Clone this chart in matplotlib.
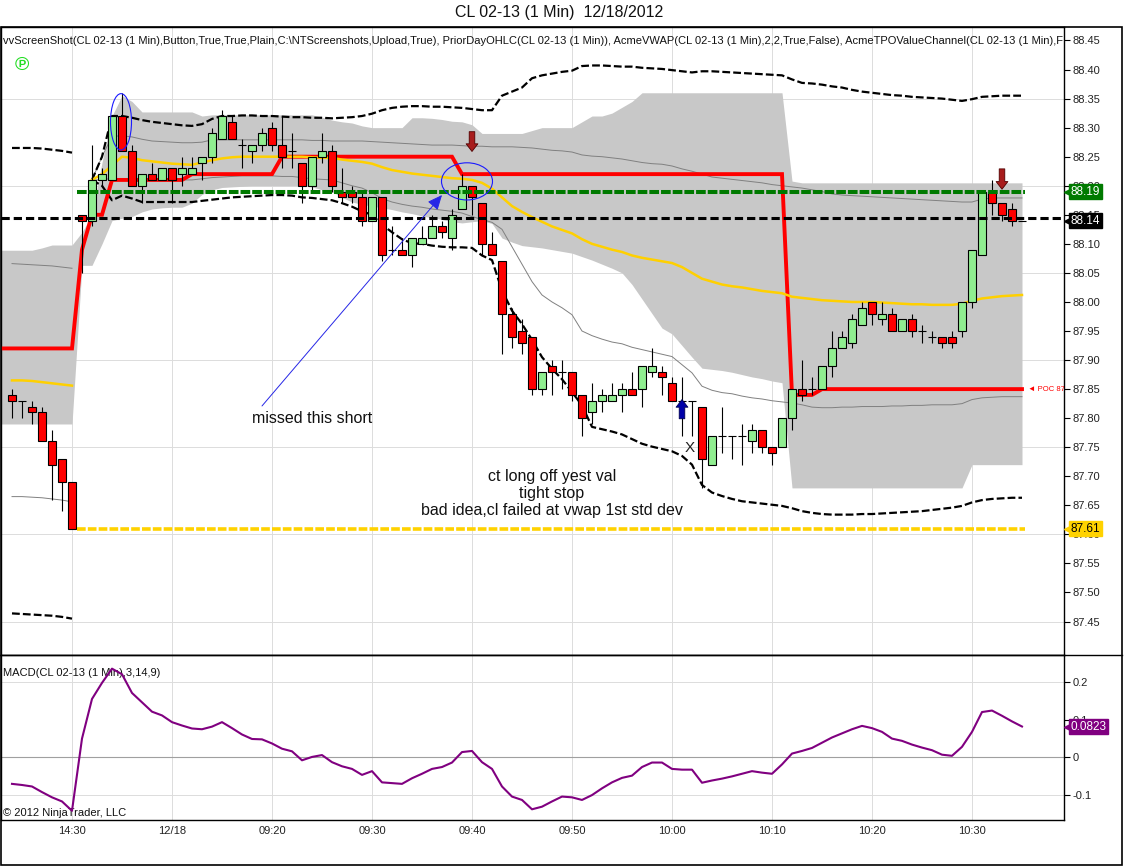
import numpy as np
import matplotlib
matplotlib.use('Agg')
import matplotlib.pyplot as plt
from matplotlib.patches import Ellipse, Rectangle
from matplotlib.lines import Line2D
from matplotlib.transforms import blended_transform_factory

plt.rcParams['font.family'] = ['Liberation Sans', 'DejaVu Sans']

# ---- 1 minute bars (prior day close, then 12/18 session) ----
opens = [87.84, 87.83, 87.82, 87.81, 87.76, 87.73, 87.69,
         88.15, 88.14, 88.21, 88.21, 88.32, 88.26, 88.20, 88.22, 88.21, 88.23, 88.22, 88.22, 88.24,
         88.25, 88.28, 88.31, 88.27, 88.26, 88.27, 88.30, 88.27, 88.26, 88.24,
         88.20, 88.25, 88.26, 88.19, 88.19, 88.18, 88.14, 88.18, 88.09, 88.09,
         88.08, 88.10, 88.11, 88.13, 88.11, 88.16, 88.20, 88.17, 88.10, 88.07,
         87.98, 87.95, 87.94, 87.85, 87.89, 87.88, 87.88, 87.84, 87.81, 87.83,
         87.83, 87.84, 87.85, 87.85, 87.88, 87.88, 87.86, 87.83, 87.83, 87.82,
         87.72, 87.77, 87.77, 87.77, 87.76, 87.78, 87.75, 87.75, 87.80, 87.85,
         87.85, 87.85, 87.89, 87.92, 87.93, 87.96, 88.00, 87.97, 87.98, 87.95,
         87.97, 87.95, 87.94, 87.94, 87.94, 87.95, 88.00, 88.08, 88.19, 88.17,
         88.16, 88.14]
highs = [87.85, 87.83, 87.83, 87.82, 87.78, 87.73, 87.69,
         88.15, 88.27, 88.23, 88.32, 88.36, 88.27, 88.22, 88.24, 88.23, 88.23, 88.25, 88.25, 88.25,
         88.30, 88.33, 88.32, 88.28, 88.27, 88.30, 88.31, 88.32, 88.29, 88.24,
         88.25, 88.29, 88.27, 88.23, 88.20, 88.19, 88.18, 88.18, 88.13, 88.11,
         88.11, 88.13, 88.15, 88.14, 88.16, 88.22, 88.20, 88.17, 88.12, 88.07,
         87.99, 87.97, 87.94, 87.88, 87.90, 87.90, 87.88, 87.84, 87.86, 87.85,
         87.86, 87.86, 87.88, 87.89, 87.92, 87.89, 87.87, 87.87, 87.83, 87.82,
         87.77, 87.82, 87.77, 87.79, 87.79, 87.78, 87.75, 87.80, 87.85, 87.90,
         87.87, 87.89, 87.95, 87.95, 87.98, 88.00, 88.00, 88.00, 87.99, 87.97,
         87.98, 87.96, 87.95, 87.94, 87.95, 88.00, 88.09, 88.19, 88.21, 88.17,
         88.17, 88.14]
lows = [87.80, 87.80, 87.79, 87.76, 87.66, 87.64, 87.61,
        88.05, 88.13, 88.20, 88.21, 88.26, 88.20, 88.17, 88.21, 88.21, 88.17, 88.20, 88.22, 88.21,
        88.24, 88.28, 88.28, 88.23, 88.24, 88.26, 88.26, 88.23, 88.23, 88.17,
        88.19, 88.24, 88.19, 88.17, 88.17, 88.13, 88.14, 88.07, 88.08, 88.08,
        88.06, 88.10, 88.11, 88.11, 88.09, 88.16, 88.15, 88.08, 88.08, 87.91,
        87.92, 87.91, 87.84, 87.84, 87.84, 87.85, 87.83, 87.77, 87.79, 87.81,
        87.83, 87.81, 87.84, 87.82, 87.87, 87.84, 87.83, 87.77, 87.77, 87.68,
        87.72, 87.74, 87.73, 87.72, 87.74, 87.74, 87.72, 87.75, 87.78, 87.83,
        87.84, 87.85, 87.87, 87.92, 87.92, 87.96, 87.96, 87.96, 87.95, 87.95,
        87.94, 87.93, 87.93, 87.92, 87.92, 87.94, 87.99, 88.08, 88.15, 88.14,
        88.13, 88.14]
closes = [87.83, 87.83, 87.81, 87.76, 87.72, 87.69, 87.61,
          88.14, 88.21, 88.22, 88.32, 88.26, 88.20, 88.22, 88.21, 88.23, 88.21, 88.23, 88.23, 88.25,
          88.29, 88.32, 88.28, 88.27, 88.27, 88.29, 88.27, 88.25, 88.26, 88.20,
          88.25, 88.26, 88.20, 88.18, 88.18, 88.14, 88.18, 88.08, 88.09, 88.08,
          88.11, 88.11, 88.13, 88.12, 88.15, 88.20, 88.18, 88.10, 88.08, 87.98,
          87.94, 87.93, 87.85, 87.88, 87.88, 87.88, 87.84, 87.80, 87.83, 87.84,
          87.84, 87.85, 87.84, 87.89, 87.89, 87.87, 87.83, 87.83, 87.83, 87.73,
          87.77, 87.77, 87.77, 87.77, 87.78, 87.75, 87.74, 87.80, 87.85, 87.84,
          87.85, 87.89, 87.92, 87.94, 87.97, 87.99, 87.98, 87.98, 87.95, 87.97,
          87.95, 87.95, 87.94, 87.93, 87.93, 88.00, 88.09, 88.19, 88.17, 88.15,
          88.14, 88.14]

nan = np.nan
# AcmeVWAP and its 1st / 2nd std dev bands
vwap = [87.865, 87.865, 87.864, 87.862, 87.860, 87.858, 87.856, nan,
        88.21, 88.22, 88.235, 88.25, 88.248, 88.244, 88.242, 88.24, 88.238, 88.237, 88.236, 88.24,
        88.244, 88.247, 88.249, 88.25, 88.25, 88.25, 88.25, 88.25, 88.25, 88.25,
        88.249, 88.248, 88.248, 88.245, 88.243, 88.241, 88.238, 88.232, 88.227, 88.224,
        88.221, 88.219, 88.217, 88.215, 88.213, 88.212, 88.21, 88.205, 88.195, 88.18,
        88.165, 88.155, 88.146, 88.138, 88.13, 88.124, 88.118, 88.108, 88.10, 88.095,
        88.09, 88.086, 88.08, 88.076, 88.073, 88.07, 88.067, 88.06, 88.05, 88.04,
        88.035, 88.03, 88.027, 88.025, 88.022, 88.019, 88.017, 88.015, 88.009, 88.007,
        88.005, 88.003, 88.002, 88.001, 88.0, 88.0, 88.0, 87.999, 87.998, 87.997,
        87.996, 87.996, 87.995, 87.995, 87.995, 87.997, 88.002, 88.006, 88.008, 88.01,
        88.011, 88.012]
sd1_up = [88.066, 88.065, 88.064, 88.063, 88.062, 88.06, 88.058, nan,
          88.21, 88.25, 88.285, 88.286, 88.284, 88.28, 88.277, 88.276, 88.275, 88.274, 88.274, 88.275,
          88.279, 88.279, 88.279, 88.279, 88.279, 88.279, 88.279, 88.279, 88.279, 88.279,
          88.278, 88.278, 88.277, 88.277, 88.277, 88.277, 88.276, 88.275, 88.274, 88.273,
          88.272, 88.271, 88.27, 88.27, 88.27, 88.269, 88.268, 88.268, 88.267, 88.267,
          88.267, 88.266, 88.265, 88.263, 88.261, 88.26, 88.258, 88.253, 88.251, 88.25,
          88.248, 88.246, 88.243, 88.24, 88.238, 88.237, 88.234, 88.229, 88.225, 88.22,
          88.215, 88.213, 88.211, 88.209, 88.207, 88.205, 88.202, 88.20, 88.198, 88.196,
          88.193, 88.19, 88.186, 88.184, 88.183, 88.182, 88.181, 88.18, 88.179, 88.178,
          88.177, 88.176, 88.175, 88.174, 88.173, 88.172, 88.172, 88.177, 88.179, 88.179,
          88.179, 88.179]
sd1_dn = [87.665, 87.665, 87.664, 87.663, 87.661, 87.659, 87.656, nan,
          88.21, 88.21, 88.213, 88.212, 88.211, 88.211, 88.21, 88.21, 88.21, 88.21, 88.21, 88.212,
          88.214, 88.215, 88.216, 88.217, 88.217, 88.217, 88.217, 88.216, 88.216, 88.214,
          88.212, 88.211, 88.21, 88.205, 88.20, 88.196, 88.188, 88.178, 88.172, 88.168,
          88.165, 88.163, 88.16, 88.158, 88.156, 88.153, 88.147, 88.142, 88.137, 88.125,
          88.095, 88.065, 88.035, 88.012, 88.0, 87.99, 87.978, 87.95, 87.942, 87.936,
          87.931, 87.928, 87.922, 87.918, 87.914, 87.91, 87.906, 87.892, 87.878, 87.855,
          87.848, 87.844, 87.842, 87.838, 87.835, 87.833, 87.83, 87.828, 87.826, 87.823,
          87.819, 87.818, 87.818, 87.819, 87.819, 87.82, 87.82, 87.82, 87.821, 87.821,
          87.822, 87.822, 87.823, 87.823, 87.823, 87.825, 87.832, 87.835, 87.836, 87.837,
          87.837, 87.837]
sd2_up = [88.265, 88.265, 88.265, 88.264, 88.262, 88.26, 88.257, nan,
          88.21, 88.25, 88.32, 88.32, 88.317, 88.313, 88.31, 88.308, 88.306, 88.304, 88.303, 88.306,
          88.315, 88.32, 88.32, 88.321, 88.321, 88.32, 88.32, 88.319, 88.318, 88.318,
          88.317, 88.317, 88.316, 88.317, 88.318, 88.32, 88.324, 88.33, 88.334, 88.336,
          88.337, 88.337, 88.336, 88.336, 88.335, 88.334, 88.332, 88.33, 88.33, 88.355,
          88.362, 88.369, 88.385, 88.39, 88.393, 88.396, 88.398, 88.406, 88.407, 88.407,
          88.406, 88.405, 88.405, 88.403, 88.402, 88.401, 88.399, 88.397, 88.395, 88.397,
          88.397, 88.396, 88.395, 88.394, 88.393, 88.392, 88.391, 88.39, 88.383, 88.377,
          88.376, 88.374, 88.371, 88.369, 88.365, 88.362, 88.36, 88.358, 88.356, 88.355,
          88.353, 88.352, 88.351, 88.35, 88.348, 88.346, 88.349, 88.353, 88.354, 88.355,
          88.355, 88.355]
sd2_dn = [87.464, 87.463, 87.462, 87.461, 87.46, 87.458, 87.455, nan,
          88.21, 88.20, 88.175, 88.183, 88.178, 88.172, 88.172, 88.172, 88.172, 88.172, 88.172, 88.174,
          88.176, 88.178, 88.18, 88.181, 88.182, 88.183, 88.184, 88.184, 88.183, 88.18,
          88.179, 88.177, 88.175, 88.17, 88.164, 88.156, 88.15, 88.133, 88.12, 88.108,
          88.101, 88.10, 88.097, 88.095, 88.094, 88.094, 88.093, 88.08, 88.072, 88.02,
          87.985, 87.962, 87.935, 87.905, 87.885, 87.867, 87.845, 87.822, 87.785, 87.781,
          87.777, 87.772, 87.764, 87.756, 87.751, 87.747, 87.743, 87.735, 87.72, 87.685,
          87.672, 87.666, 87.661, 87.657, 87.655, 87.653, 87.651, 87.649, 87.645, 87.64,
          87.637, 87.635, 87.634, 87.634, 87.634, 87.635, 87.635, 87.636, 87.637, 87.638,
          87.639, 87.64, 87.642, 87.644, 87.646, 87.649, 87.655, 87.659, 87.661, 87.662,
          87.663, 87.663]

# AcmeTPOValueChannel: value area band + POC
va_top = [88.089, 88.089, 88.089, 88.093, 88.098, 88.098, 88.098, 88.12,
          88.15, 88.24, 88.32, 88.355, 88.345, 88.327, 88.327, 88.327, 88.327, 88.327, 88.327, 88.32,
          88.322, 88.322, 88.322, 88.322, 88.322, 88.322, 88.322, 88.322, 88.322, 88.322,
          88.322, 88.318, 88.313, 88.31, 88.308, 88.303, 88.30, 88.30, 88.30, 88.30,
          88.317, 88.317, 88.316, 88.314, 88.311, 88.31, 88.305, 88.29, 88.29, 88.29,
          88.29, 88.29, 88.295, 88.30, 88.30, 88.30, 88.30, 88.31, 88.32, 88.32,
          88.325, 88.335, 88.345, 88.36, 88.36, 88.36, 88.36, 88.36, 88.36, 88.36,
          88.36, 88.36, 88.36, 88.36, 88.36, 88.36, 88.36, 88.36, 88.208, 88.205,
          88.205, 88.205, 88.205, 88.205, 88.205, 88.205, 88.205, 88.205, 88.205, 88.205,
          88.205, 88.205, 88.205, 88.205, 88.205, 88.205, 88.205, 88.205, 88.205, 88.205,
          88.205, 88.205]
va_bot = [87.79, 87.79, 87.79, 87.79, 87.79, 87.79, 87.79, 88.063,
          88.063, 88.10, 88.14, 88.144, 88.147, 88.155, 88.16, 88.162, 88.163, 88.163, 88.17, 88.185,
          88.193, 88.197, 88.198, 88.199, 88.20, 88.20, 88.20, 88.20, 88.20, 88.20,
          88.198, 88.193, 88.19, 88.18, 88.172, 88.168, 88.165, 88.162, 88.159, 88.155,
          88.152, 88.148, 88.145, 88.142, 88.138, 88.136, 88.138, 88.14, 88.135, 88.11,
          88.103, 88.097, 88.095, 88.093, 88.09, 88.087, 88.084, 88.078, 88.072, 88.065,
          88.058, 88.05, 88.03, 88.005, 87.98, 87.955, 87.945, 87.925, 87.905, 87.886,
          87.884, 87.882, 87.879, 87.875, 87.871, 87.868, 87.864, 87.861, 87.68, 87.68,
          87.68, 87.68, 87.68, 87.68, 87.68, 87.68, 87.68, 87.68, 87.68, 87.68,
          87.68, 87.68, 87.68, 87.68, 87.68, 87.68, 87.72, 87.72, 87.72, 87.72,
          87.72, 87.72]
poc = ([87.92] * 7 + [88.09, 88.15, 88.15] + [88.21] * 8 + [88.22] * 9 + [88.25] * 18
       + [88.22] * 33 + [87.84] * 3 + [87.85] * 21)

# PriorDayOHLC levels
prior_high = 88.19
prior_close = 88.145
prior_low = 87.61

# MACD(3,14,9)
macd = [-0.071, -0.074, -0.078, -0.093, -0.107, -0.118, -0.143,
        0.05, 0.156, 0.199, 0.237, 0.222, 0.172, 0.147, 0.122, 0.112, 0.094, 0.085, 0.077, 0.075,
        0.082, 0.094, 0.078, 0.061, 0.049, 0.048, 0.037, 0.023, 0.016, -0.008,
        0.001, 0.006, -0.013, -0.024, -0.031, -0.047, -0.037, -0.067, -0.069, -0.071,
        -0.056, -0.044, -0.031, -0.026, -0.014, 0.014, 0.017, -0.013, -0.031, -0.078,
        -0.105, -0.114, -0.139, -0.132, -0.118, -0.105, -0.107, -0.114, -0.101, -0.083,
        -0.067, -0.055, -0.049, -0.026, -0.014, -0.014, -0.031, -0.033, -0.033, -0.068,
        -0.062, -0.057, -0.051, -0.044, -0.037, -0.041, -0.044, -0.019, 0.01, 0.017,
        0.025, 0.039, 0.053, 0.064, 0.075, 0.084, 0.078, 0.068, 0.05, 0.044,
        0.034, 0.026, 0.019, 0.007, 0.004, 0.028, 0.068, 0.121, 0.125, 0.111,
        0.096, 0.0823]

time_ticks = [6, 16, 26, 36, 46, 56, 66, 76, 86, 96]
time_labels = ['14:30', '12/18', '09:20', '09:30', '09:40', '09:50', '10:00', '10:10', '10:20', '10:30']
price_ticks = np.round(np.arange(87.45, 88.451, 0.05), 2)
macd_ticks = [-0.1, 0, 0.1, 0.2]

n = len(opens)
idx = np.arange(n)
o = np.array(opens)
c = np.array(closes)

W, H = 1125, 866
fig = plt.figure(figsize=(W / 100, H / 100), dpi=100)
ax = fig.add_axes([1 / W, 1 - 655 / H, 1063 / W, 628 / H])
axm = fig.add_axes([1 / W, 1 - 820 / H, 1063 / W, 165 / H])

x_left, x_right = -1.1, 105.2
for a in (ax, axm):
    a.set_xlim(x_left, x_right)
    a.yaxis.tick_right()
    a.tick_params(axis='y', direction='out', length=4, width=0.8, labelsize=8, pad=2,
                  colors='black', labelcolor='#222222')
    for s in a.spines.values():
        s.set_linewidth(1.0)
    for t in time_ticks:
        a.axvline(t, color='#dcdcdc', lw=0.7, zorder=0.5)
ax.set_ylim(87.3924, 88.4732)
axm.set_ylim(-0.1676, 0.2735)
ax.set_yticks(price_ticks)
ax.set_yticklabels(['%.2f' % p for p in price_ticks])
ax.set_xticks([])
axm.set_yticks(macd_ticks)
axm.set_yticklabels(['-0.1', '0', '0.1', '0.2'])
axm.set_xticks(time_ticks)
axm.set_xticklabels(time_labels)
axm.tick_params(axis='x', length=0, labelsize=8, pad=4, labelcolor='#222222')

# horizontal grid every 0.15
for g in np.arange(87.45, 88.46, 0.15):
    ax.axhline(g, color='#dcdcdc', lw=0.7, zorder=0.5)

# value area band and POC (extended to the left edge)
xb = np.r_[x_left, idx]
ax.fill_between(xb, np.r_[va_bot[0], va_bot], np.r_[va_top[0], va_top], color='#c8c8c8', lw=0, zorder=1)
ax.plot(xb, np.r_[poc[0], poc], color='#ff0000', lw=2.8, zorder=3, solid_joinstyle='miter')

# VWAP and deviations
ax.plot(idx, sd1_up, color='#808080', lw=0.7, zorder=2)
ax.plot(idx, sd1_dn, color='#808080', lw=0.7, zorder=2)
ax.plot(idx, sd2_up, color='black', lw=1.6, dashes=(3.5, 1.4), zorder=2)
ax.plot(idx, sd2_dn, color='black', lw=1.6, dashes=(3.5, 1.4), zorder=2)
ax.plot(idx, vwap, color='#ffd000', lw=1.8, zorder=3)

# candles
body_col = np.where(c >= o, '#90ee90', '#ff0000')
ax.vlines(idx, lows, highs, color='black', lw=0.8, zorder=4)
ax.bar(idx, np.abs(c - o), bottom=np.minimum(o, c), width=0.72, color=body_col,
       edgecolor='black', linewidth=0.8, zorder=4.5)

# prior day levels
ax.axhline(prior_close, color='black', lw=2.2, dashes=(2.7, 1.3), zorder=5)
ax.hlines(prior_high, 6.5, 101.3, color='#007a00', lw=2.9, linestyles=[(0, (2.4, 0.5))], zorder=5)
ax.hlines(prior_low, 6.5, 101.3, color='#ffd200', lw=2.6, linestyles=[(0, (2.4, 0.6))], zorder=5)

# annotations
ax.add_patch(Ellipse((10.9, 88.31), 2.1, 0.097, fill=False, ec='#1a1aff', lw=0.8, zorder=7))
ax.add_patch(Ellipse((45.5, 88.2075), 5.1, 0.064, fill=False, ec='#1a1aff', lw=0.8, zorder=7))
ax.annotate('', xy=(43.0, 88.184), xytext=(25.0, 87.821),
            arrowprops=dict(arrowstyle='-|>,head_length=0.9,head_width=0.4', color='#2626e6',
                            lw=0.7, shrinkA=0, shrinkB=0), zorder=7)
ax.text(30, 87.80, 'missed this short', fontsize=11.5, ha='center', va='center', color='#111111', zorder=7)
ax.text(54, 87.670, 'ct long off yest val\ntight stop\nbad idea,cl failed at vwap 1st std dev',
        fontsize=11.5, ha='center', va='center', linespacing=1.15, color='#111111', zorder=7)
ax.text(67.8, 87.749, 'X', fontsize=11, ha='center', va='center', color='#222222', zorder=7)

arrow_down = 'simple,head_length=0.55,head_width=0.85,tail_width=0.4'
for xi, tip, tail in [(46, 88.259, 88.293), (99, 88.194, 88.229)]:
    ax.annotate('', xy=(xi, tip), xytext=(xi, tail),
                arrowprops=dict(arrowstyle=arrow_down, fc='#a81c1c', ec='#500000', lw=0.6,
                                shrinkA=0, shrinkB=0), zorder=7)
ax.annotate('', xy=(67, 87.832), xytext=(67, 87.799),
            arrowprops=dict(arrowstyle=arrow_down, fc='#0000a8', ec='#000050', lw=0.6,
                            shrinkA=0, shrinkB=0), zorder=7)

ax.text(101.6, poc[-1], '\u25c4 POC 87.85', fontsize=5.5, color='#ff0000', va='center',
        ha='left', zorder=7, clip_on=True)

# header texts
hdr = ('vvScreenShot(CL 02-13 (1 Min),Button,True,True,Plain,C:\\NTScreenshots,Upload,True), '
       'PriorDayOHLC(CL 02-13 (1 Min)), AcmeVWAP(CL 02-13 (1 Min),2,2,True,False), '
       'AcmeTPOValueChannel(CL 02-13 (1 Min),F')
ax.text(0.002, (655 - 41) / 628, hdr, transform=ax.transAxes, fontsize=8, va='center',
        ha='left', color='#111111', clip_on=True, zorder=8)
ax.text(0.0195, (655 - 65) / 628, '\u2117', transform=ax.transAxes, fontsize=14, va='center',
        ha='center', color='#22dd22', fontweight='bold', zorder=8)
axm.text(0.002, (820 - 673) / 165, 'MACD(CL 02-13 (1 Min),3,14,9)', transform=axm.transAxes,
         fontsize=8, va='center', ha='left', color='#111111')
axm.text(0.002, (820 - 813) / 165, '\u00a9 2012 NinjaTrader, LLC', transform=axm.transAxes,
         fontsize=8, va='center', ha='left', color='#111111')

# MACD panel
axm.axhline(0.2, color='#dcdcdc', lw=0.7, zorder=0.5)
axm.axhline(-0.1, color='#dcdcdc', lw=0.7, zorder=0.5)
axm.axhline(0, color='#a0a0a0', lw=0.8, zorder=1)
axm.plot(idx, macd, color='#800080', lw=1.5, zorder=3)

# last value tags on the price scale
def tag(a, val, label, fc, tc):
    tr = blended_transform_factory(a.transAxes, a.transData)
    a.plot([1.0045], [val], marker='<', ms=7, color=fc, transform=tr, clip_on=False, zorder=9)
    a.text(1.0065, val, label, transform=tr, fontsize=8.5, color=tc, va='center', ha='left',
           zorder=9, bbox=dict(boxstyle='square,pad=0.12', fc=fc, ec=fc))

tag(ax, prior_high, '88.19', '#007a00', 'white')
tag(ax, 88.14, '88.14', 'black', 'white')
tag(ax, prior_low, '87.61', '#ffd200', 'black')
tag(axm, macd[-1], '%.4f' % macd[-1], '#800080', 'white')

fig.text(559 / W, 1 - 13 / H, 'CL 02-13 (1 Min)  12/18/2012', fontsize=11.5, ha='center', va='center',
         color='#111111')
fig.add_artist(Rectangle((0.5 / W, 1 - 865 / H), 1121.5 / W, (865 - 27) / H, fill=False,
                         ec='black', lw=1.2, transform=fig.transFigure))
fig.add_artist(Line2D([0, 1122 / W], [1 - 655 / H, 1 - 655 / H], color='black', lw=1.0,
                      transform=fig.transFigure))

fig.savefig('out.png', dpi=100)
